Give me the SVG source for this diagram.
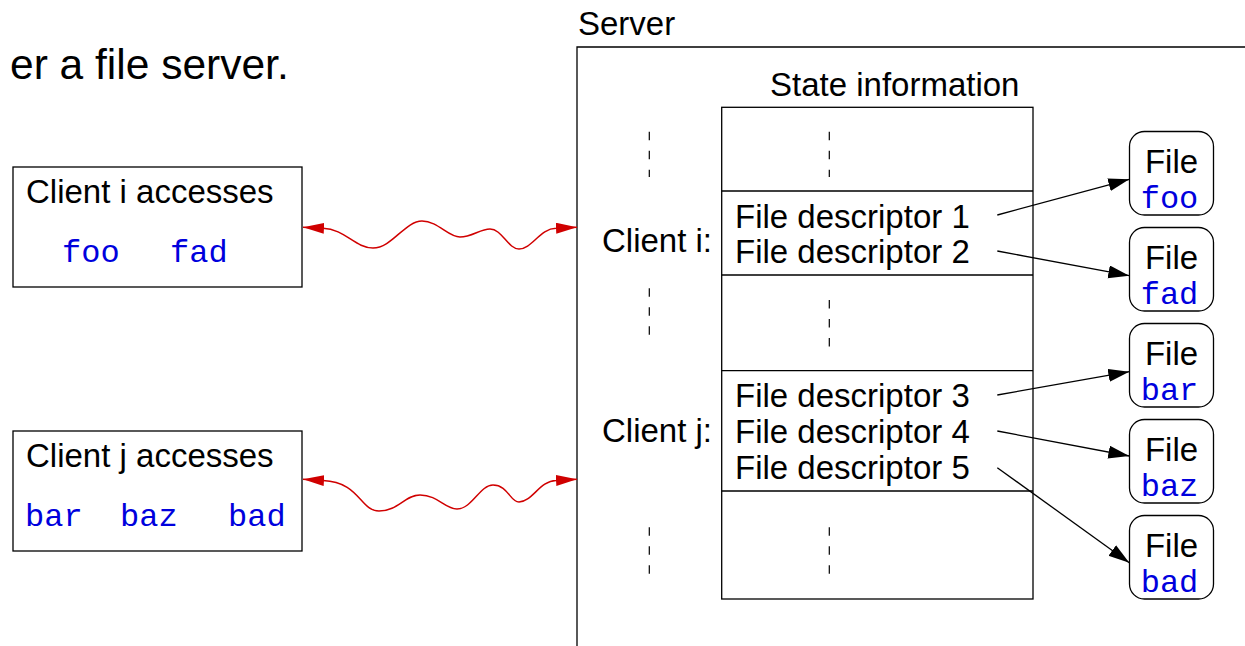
<svg xmlns="http://www.w3.org/2000/svg" width="1245" height="646" viewBox="0 0 1245 646">
<style>
text{font-family:"Liberation Sans",Arial,sans-serif;fill:#000}
.t{font-size:33px}
.m{font-family:"Liberation Mono","Courier New",monospace;font-size:32px;fill:#0000dd}
.box{fill:#fff;stroke:#000;stroke-width:1.3}
.ln{fill:none;stroke:#000;stroke-width:1.3}
.dash{fill:none;stroke:#000;stroke-width:1.2;stroke-dasharray:8.5 10.5}
.wave{fill:none;stroke:#d00000;stroke-width:1.5;marker-start:url(#ra);marker-end:url(#ra)}
.arr{fill:none;stroke:#000;stroke-width:1.3;marker-end:url(#ba)}
</style>
<defs>
<marker id="ba" markerUnits="userSpaceOnUse" markerWidth="22" markerHeight="14" refX="21" refY="6.5" orient="auto"><path d="M0,0 L21,6.5 L0,13 z" fill="#000"/></marker>
<marker id="ra" markerUnits="userSpaceOnUse" markerWidth="22" markerHeight="12" refX="21" refY="5.5" orient="auto-start-reverse"><path d="M0,0 L21,5.5 L0,11 z" fill="#d00000"/></marker>
</defs>
<rect width="1245" height="646" fill="#fff"/>
<text x="10" y="79" style="font-size:42.5px">er a file server.</text>

<g id="client-i">
<rect class="box" x="13" y="167" width="289" height="120"/>
<text class="t" x="26" y="203">Client i accesses</text>
<text class="m" x="62" y="262">foo</text>
<text class="m" x="170" y="262">fad</text>
</g>
<g id="client-j">
<rect class="box" x="13" y="431" width="289" height="120"/>
<text class="t" x="26" y="467">Client j accesses</text>
<text class="m" x="25" y="526">bar</text>
<text class="m" x="120" y="526">baz</text>
<text class="m" x="228" y="526">bad</text>
</g>

<g id="server">
<path class="ln" d="M577,646 V47 H1245"/>
<text class="t" x="578" y="35">Server</text>
</g>

<g id="state">
<text class="t" x="770" y="96">State information</text>
<rect class="box" x="721.7" y="107.3" width="311.3" height="491.7"/>
<path class="ln" d="M721.7,191 H1033 M721.7,275 H1033 M721.7,370.7 H1033 M721.7,491 H1033"/>
<path class="dash" d="M649.3,131.7 V177 M829.3,131.7 V177 M649.3,288.3 V335 M829.3,300 V347 M649.3,527.3 V574 M829.3,527.3 V574"/>
<text class="t" x="602" y="252">Client i:</text>
<text class="t" x="735" y="227.7">File descriptor 1</text>
<text class="t" x="735" y="263.3">File descriptor 2</text>
<text class="t" x="602" y="442">Client j:</text>
<text class="t" x="735" y="406.5">File descriptor 3</text>
<text class="t" x="735" y="442.7">File descriptor 4</text>
<text class="t" x="735" y="478.5">File descriptor 5</text>
</g>

<g id="file-foo">
<rect class="box" x="1129.5" y="131.5" width="84" height="83.5" rx="15"/>
<text class="t" x="1171.5" y="173.3" text-anchor="middle">File</text>
<text class="m" x="1169.5" y="208.3" text-anchor="middle">foo</text>
</g>
<g id="file-fad">
<rect class="box" x="1129.5" y="227.5" width="84" height="83.5" rx="15"/>
<text class="t" x="1171.5" y="269.3" text-anchor="middle">File</text>
<text class="m" x="1169.5" y="304.3" text-anchor="middle">fad</text>
</g>
<g id="file-bar">
<rect class="box" x="1129.5" y="323.5" width="84" height="83.5" rx="15"/>
<text class="t" x="1171.5" y="365.3" text-anchor="middle">File</text>
<text class="m" x="1169.5" y="400.3" text-anchor="middle">bar</text>
</g>
<g id="file-baz">
<rect class="box" x="1129.5" y="419.5" width="84" height="83.5" rx="15"/>
<text class="t" x="1171.5" y="461.3" text-anchor="middle">File</text>
<text class="m" x="1169.5" y="496.3" text-anchor="middle">baz</text>
</g>
<g id="file-bad">
<rect class="box" x="1129.5" y="515.5" width="84" height="83.5" rx="15"/>
<text class="t" x="1171.5" y="557.3" text-anchor="middle">File</text>
<text class="m" x="1169.5" y="592.3" text-anchor="middle">bad</text>
</g>

<g id="connectors">
<path class="wave" d="M303,227.3 L323,228.3 C345,229 355,248 373,248 C392,248 405,221 422,221 C438,221 448,237 460,237 C472,237 480,229 490,229 C502,229 508,249 519,249 C532,249 540,228.3 556,228.3 L577,227.3"/>
<path class="wave" d="M303,479.3 L323,480.5 C360,482 360,511 379,511 C398,511 405,495 420,495 C438,495 445,509 457,509 C472,509 480,485 493,485 C508,485 510,502 519,502 C532,502 540,480.5 556,480.5 L577,479.3"/>
<path class="arr" d="M997.3,215 L1129.3,179.3"/>
<path class="arr" d="M997.3,251 L1129.3,275.7"/>
<path class="arr" d="M997.3,395 L1129.3,371.7"/>
<path class="arr" d="M997.3,431 L1129.3,456"/>
<path class="arr" d="M997.3,467.7 L1129.3,562.7"/>
</g>
</svg>
